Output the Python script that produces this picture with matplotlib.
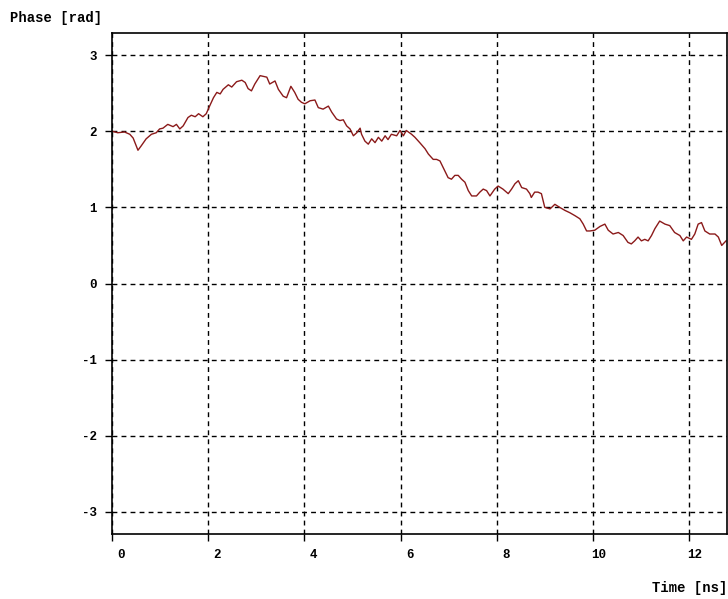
import matplotlib
matplotlib.use("Agg")
import matplotlib.pyplot as plt
import matplotlib.transforms as mtransforms

# phase trace
time_ns = [0.0, 0.12, 0.26, 0.37, 0.44, 0.54, 0.61, 0.71, 0.82, 0.92, 0.99, 1.06, 1.16, 1.27, 1.34,
           1.41, 1.48, 1.58, 1.65, 1.73, 1.80, 1.89, 1.96, 2.03, 2.11, 2.18, 2.25, 2.31, 2.42, 2.49,
           2.59, 2.70, 2.77, 2.83, 2.90, 2.97, 3.08, 3.15, 3.22, 3.28, 3.39, 3.46, 3.56, 3.63, 3.72,
           3.80, 3.87, 3.94, 4.01, 4.12, 4.22, 4.29, 4.39, 4.50, 4.57, 4.67, 4.74, 4.81, 4.88, 4.95,
           5.02, 5.09, 5.16, 5.19, 5.26, 5.33, 5.40, 5.47, 5.54, 5.61, 5.68, 5.74, 5.81, 5.92, 5.99,
           6.06, 6.12, 6.23, 6.30, 6.40, 6.51, 6.58, 6.68, 6.75, 6.82, 6.92, 6.99, 7.06, 7.13, 7.20,
           7.27, 7.34, 7.41, 7.48, 7.58, 7.65, 7.72, 7.79, 7.86, 7.96, 8.03, 8.13, 8.24, 8.31, 8.38,
           8.45, 8.52, 8.62, 8.69, 8.72, 8.79, 8.86, 8.93, 9.00, 9.11, 9.21, 9.31, 9.42, 9.52, 9.63,
           9.73, 9.80, 9.87, 9.94, 10.04, 10.15, 10.25, 10.32, 10.42, 10.53, 10.63, 10.73, 10.80,
           10.87, 10.94, 11.01, 11.08, 11.15, 11.22, 11.29, 11.39, 11.50, 11.60, 11.70, 11.81, 11.88,
           11.95, 12.05, 12.12, 12.19, 12.26, 12.33, 12.43, 12.54, 12.61, 12.68, 12.77]
phase_rad = [2.00, 1.98, 1.99, 1.96, 1.91, 1.75, 1.81, 1.90, 1.96, 1.98, 2.03, 2.04, 2.09, 2.06, 2.09,
             2.03, 2.07, 2.18, 2.21, 2.19, 2.23, 2.19, 2.23, 2.33, 2.44, 2.51, 2.49, 2.55, 2.61, 2.58,
             2.65, 2.67, 2.64, 2.56, 2.53, 2.62, 2.73, 2.72, 2.71, 2.62, 2.66, 2.55, 2.46, 2.44, 2.59,
             2.51, 2.42, 2.38, 2.36, 2.40, 2.41, 2.31, 2.29, 2.33, 2.25, 2.16, 2.14, 2.15, 2.07, 2.03,
             1.94, 1.98, 2.04, 1.96, 1.87, 1.83, 1.90, 1.85, 1.92, 1.87, 1.94, 1.89, 1.96, 1.94, 2.01,
             1.94, 2.01, 1.96, 1.92, 1.85, 1.77, 1.70, 1.63, 1.63, 1.61, 1.48, 1.39, 1.37, 1.42, 1.42,
             1.37, 1.33, 1.22, 1.15, 1.15, 1.20, 1.24, 1.22, 1.15, 1.24, 1.28, 1.24, 1.18, 1.24, 1.31,
             1.35, 1.26, 1.24, 1.18, 1.13, 1.20, 1.20, 1.18, 1.00, 0.98, 1.04, 1.00, 0.96, 0.93, 0.89,
             0.85, 0.78, 0.69, 0.69, 0.70, 0.75, 0.78, 0.70, 0.65, 0.67, 0.63, 0.54, 0.52,
             0.56, 0.61, 0.56, 0.58, 0.56, 0.63, 0.72, 0.82, 0.78, 0.76, 0.67, 0.63, 0.56,
             0.61, 0.58, 0.65, 0.78, 0.80, 0.69, 0.65, 0.65, 0.61, 0.50, 0.56]

x_ticks = [0, 2, 4, 6, 8, 10, 12]
y_ticks = [-3, -2, -1, 0, 1, 2, 3]

mono = "Liberation Mono"
plt.rcParams["axes.unicode_minus"] = False

fig = plt.figure(figsize=(7.28, 5.99), dpi=100)
ax = fig.add_axes([112 / 728, 65 / 599, 615 / 728, 501 / 599])

ax.plot(time_ns, phase_rad, color="#8b1a1a", linewidth=1.0)

ax.set_xlim(0, 12.79)
ax.set_ylim(-3.29, 3.29)
ax.set_xticks(x_ticks)
ax.set_yticks(y_ticks)
ax.grid(True, color="black", linestyle=(0, (3.5, 3)), linewidth=1.0)
ax.tick_params(direction="out", length=5, width=1, colors="black", labelsize=9, pad=6)
for s in ax.spines.values():
    s.set_linewidth(1.2)

# x labels sit a bit to the right of their tick
shift = mtransforms.ScaledTranslation(13 / 100, 0, fig.dpi_scale_trans)
for lbl in ax.get_xticklabels():
    lbl.set_horizontalalignment("right")
    lbl.set_transform(lbl.get_transform() + shift)
for lbl in ax.get_xticklabels() + ax.get_yticklabels():
    lbl.set_fontfamily(mono)
    lbl.set_fontweight("bold")

fig.text(10 / 728, 1 - 18 / 599, "Phase [rad]", family=mono, weight="bold", fontsize=10,
         ha="left", va="center")
fig.text(727 / 728, 1 - 588 / 599, "Time [ns]", family=mono, weight="bold", fontsize=10,
         ha="right", va="center")

fig.savefig("out.png", dpi=100)
